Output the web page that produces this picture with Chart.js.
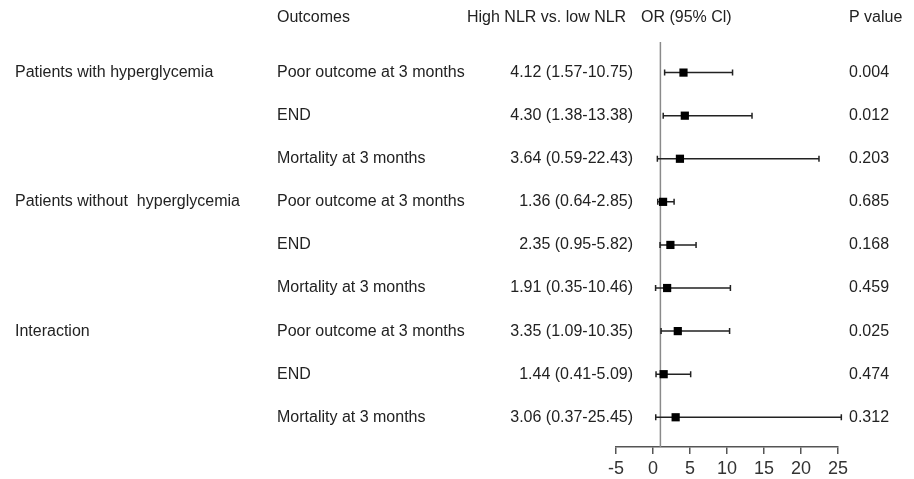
<!DOCTYPE html>
<html>
<head>
<meta charset="utf-8">
<script src="https://cdn.jsdelivr.net/npm/chart.js@4.4.1/dist/chart.umd.min.js"></script>
<style>
    body { margin: 0; background: #fff; }
</style>
</head>
<body>
<canvas id="myChart" width="914" height="479"></canvas>
<script>
    //data
    const groups = ["Patients with hyperglycemia", "", "", "Patients without  hyperglycemia", "", "", "Interaction", "", ""];
    const outcomes = ["Poor outcome at 3 months", "END", "Mortality at 3 months",
        "Poor outcome at 3 months", "END", "Mortality at 3 months",
        "Poor outcome at 3 months", "END", "Mortality at 3 months"];
    const orValues = [4.12, 4.30, 3.64, 1.36, 2.35, 1.91, 3.35, 1.44, 3.06];
    const lowerCI = [1.57, 1.38, 0.59, 0.64, 0.95, 0.35, 1.09, 0.41, 0.37];
    const upperCI = [10.75, 13.38, 22.43, 2.85, 5.82, 10.46, 10.35, 5.09, 25.45];
    const pValues = ["0.004", "0.012", "0.203", "0.685", "0.168", "0.459", "0.025", "0.474", "0.312"];
    const xTicks = [-5, 0, 5, 10, 15, 20, 25];
    const refValue = 1;

    const font = '16px "Liberation Sans", Arial, sans-serif';
    const textColor = "#222";

    // reference line + error bars under the squares
    const forestLines = {
        id: "forestLines",
        beforeDatasetsDraw(chart) {
            const ctx = chart.ctx;
            const x = chart.scales.x;
            const y = chart.scales.y;
            ctx.save();
            ctx.strokeStyle = "#8a8a8a";
            ctx.lineWidth = 1.5;
            ctx.beginPath();
            ctx.moveTo(x.getPixelForValue(refValue), chart.chartArea.top);
            ctx.lineTo(x.getPixelForValue(refValue), chart.chartArea.bottom);
            ctx.stroke();

            ctx.strokeStyle = "#222";
            ctx.lineWidth = 1.5;
            orValues.forEach(function (v, i) {
                const py = y.getPixelForValue(i);
                const x1 = x.getPixelForValue(lowerCI[i]);
                const x2 = x.getPixelForValue(upperCI[i]);
                ctx.beginPath();
                ctx.moveTo(x1, py);
                ctx.lineTo(x2, py);
                ctx.moveTo(x1, py - 3);
                ctx.lineTo(x1, py + 3);
                ctx.moveTo(x2, py - 3);
                ctx.lineTo(x2, py + 3);
                ctx.stroke();
            });
            ctx.restore();
        }
    };

    // table text
    const forestText = {
        id: "forestText",
        afterDraw(chart) {
            const ctx = chart.ctx;
            const y = chart.scales.y;
            ctx.save();
            ctx.font = font;
            ctx.fillStyle = textColor;
            ctx.textBaseline = "middle";

            ctx.textAlign = "left";
            ctx.fillText("Outcomes", 277, 18);
            ctx.fillText("High NLR vs. low NLR", 467, 18);
            ctx.fillText("OR (95% Cl)", 641, 18);
            ctx.fillText("P value", 849, 18);

            orValues.forEach(function (v, i) {
                const py = y.getPixelForValue(i);
                ctx.textAlign = "left";
                if (groups[i]) ctx.fillText(groups[i], 15, py);
                ctx.fillText(outcomes[i], 277, py);
                ctx.fillText(pValues[i], 849, py);
                ctx.textAlign = "right";
                ctx.fillText(v.toFixed(2) + " (" + lowerCI[i].toFixed(2) + "-" + upperCI[i].toFixed(2) + ")", 633, py);
            });
            ctx.restore();
        }
    };

    new Chart("myChart", {
        type: "scatter",
        data: {
            datasets: [{
                data: orValues.map(function (v, i) { return { x: v, y: i }; }),
                pointStyle: "rect",
                pointRadius: 5.8,
                pointHoverRadius: 5.8,
                backgroundColor: "#000",
                borderColor: "#000",
                borderWidth: 0
            }]
        },
        options: {
            responsive: false,
            animation: false,
            events: [],
            layout: { padding: { left: 616, right: 76, top: 42, bottom: 0 } },
            plugins: {
                legend: { display: false },
                tooltip: { enabled: false }
            },
            scales: {
                x: {
                    type: "linear",
                    min: xTicks[0],
                    max: xTicks[xTicks.length - 1],
                    afterFit: function (axis) { axis.height = 32; },
                    afterBuildTicks: function (axis) {
                        axis.ticks = xTicks.map(function (t) { return { value: t }; });
                    },
                    grid: {
                        drawOnChartArea: false,
                        drawTicks: true,
                        tickLength: 7,
                        color: "#555",
                        lineWidth: 1.5
                    },
                    border: { display: true, color: "#555", width: 1.5 },
                    ticks: {
                        color: "#333",
                        padding: 4,
                        font: { family: '"Liberation Sans", Arial, sans-serif', size: 18 }
                    }
                },
                y: {
                    type: "linear",
                    display: false,
                    reverse: true,
                    min: -0.71,
                    max: 8.69
                }
            }
        },
        plugins: [forestLines, forestText]
    });
</script>
</body>
</html>
